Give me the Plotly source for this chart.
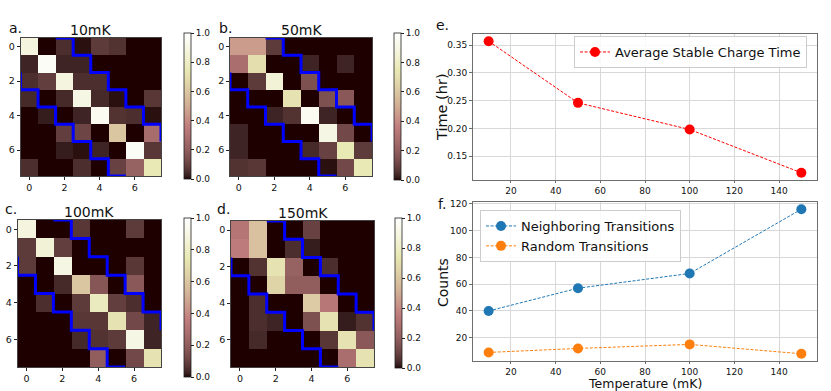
import math
import plotly.graph_objects as go

# ---------------- data ----------------
HEAT_TITLES = ["10mK", "50mK", "100mK", "150mK"]
PANEL_LABELS = ["a.", "b.", "c.", "d.", "e.", "f."]

M_10 = [
    [0.88, 0.00, 0.05, 0.01, 0.08, 0.06, 0.00, 0.00],
    [0.03, 0.97, 0.03, 0.03, 0.00, 0.00, 0.00, 0.00],
    [0.05, 0.09, 0.88, 0.05, 0.05, 0.00, 0.00, 0.00],
    [0.04, 0.00, 0.04, 0.90, 0.04, 0.01, 0.00, 0.07],
    [0.00, 0.02, 0.00, 0.03, 0.95, 0.06, 0.05, 0.01],
    [0.00, 0.00, 0.09, 0.11, 0.00, 0.60, 0.00, 0.27],
    [0.00, 0.00, 0.02, 0.01, 0.03, 0.00, 0.97, 0.07],
    [0.05, 0.00, 0.00, 0.05, 0.00, 0.10, 0.22, 0.75],
]
M_50 = [
    [0.45, 0.45, 0.08, 0.00, 0.00, 0.00, 0.00, 0.00],
    [0.28, 0.70, 0.00, 0.00, 0.03, 0.00, 0.03, 0.00],
    [0.00, 0.08, 0.85, 0.00, 0.15, 0.00, 0.00, 0.00],
    [0.00, 0.00, 0.00, 0.72, 0.00, 0.15, 0.18, 0.00],
    [0.00, 0.00, 0.03, 0.06, 0.95, 0.03, 0.00, 0.00],
    [0.03, 0.00, 0.00, 0.00, 0.00, 0.90, 0.12, 0.00],
    [0.03, 0.00, 0.00, 0.00, 0.04, 0.10, 0.75, 0.08],
    [0.06, 0.07, 0.00, 0.00, 0.00, 0.01, 0.12, 0.75],
]
M_100 = [
    [0.88, 0.00, 0.00, 0.07, 0.00, 0.00, 0.08, 0.00],
    [0.08, 0.85, 0.09, 0.00, 0.00, 0.00, 0.00, 0.00],
    [0.08, 0.00, 0.90, 0.00, 0.00, 0.00, 0.07, 0.00],
    [0.00, 0.00, 0.04, 0.60, 0.17, 0.00, 0.18, 0.00],
    [0.00, 0.05, 0.00, 0.08, 0.78, 0.09, 0.05, 0.00],
    [0.00, 0.00, 0.00, 0.07, 0.07, 0.72, 0.12, 0.03],
    [0.00, 0.00, 0.00, 0.04, 0.06, 0.08, 0.90, 0.03],
    [0.00, 0.00, 0.00, 0.00, 0.20, 0.00, 0.12, 0.72],
]
M_150 = [
    [0.32, 0.58, 0.00, 0.00, 0.10, 0.00, 0.00, 0.00],
    [0.35, 0.58, 0.00, 0.05, 0.02, 0.00, 0.00, 0.00],
    [0.00, 0.06, 0.72, 0.22, 0.00, 0.05, 0.00, 0.00],
    [0.00, 0.00, 0.65, 0.20, 0.20, 0.00, 0.00, 0.00],
    [0.00, 0.05, 0.00, 0.00, 0.62, 0.33, 0.00, 0.00],
    [0.00, 0.05, 0.03, 0.00, 0.15, 0.72, 0.02, 0.06],
    [0.00, 0.04, 0.00, 0.00, 0.00, 0.07, 0.72, 0.18],
    [0.00, 0.00, 0.00, 0.00, 0.00, 0.00, 0.28, 0.72],
]
MATRICES = [M_10, M_50, M_100, M_150]
N_STATES = 8
BAND = 2

TEMPS = [10, 50, 100, 150]
STABLE_TIME = [0.357, 0.246, 0.198, 0.120]
NEIGHBOR = [40, 57, 68, 116]
RANDOM = [9, 12, 15, 8]

HEAT_TICKS = [0, 2, 4, 6]
CBAR_TICKS = [0.0, 0.2, 0.4, 0.6, 0.8, 1.0]
X_TICKS = [20, 40, 60, 80, 100, 120, 140]
E_YTICKS = [0.15, 0.20, 0.25, 0.30, 0.35]
F_YTICKS = [20, 40, 60, 80, 100, 120]

# ---------------- helpers ----------------
W, H = 831, 391
FONT = "DejaVu Sans"


def xd(a, b):
    return [a / W, b / W]


def yd(top, bottom):
    return [1 - bottom / H, 1 - top / H]


def pink_scale(m=64):
    n = 3 * m // 8
    out = []
    for i in range(m):
        g = i / (m - 1)
        hr = min(1.0, (i + 1) / n)
        hg = min(1.0, max(0.0, (i + 1 - n) / n))
        hb = min(1.0, max(0.0, (i + 1 - 2 * n) / (m - 2 * n)))
        r = math.sqrt((2 * g + hr) / 3)
        gg = math.sqrt((2 * g + hg) / 3)
        b = math.sqrt((2 * g + hb) / 3)
        out.append([i / (m - 1), f"rgb({round(r*255)},{round(gg*255)},{round(b*255)})"])
    return out


PINK = pink_scale()

# staircase outlining the |i-j|<=BAND band
up_x, up_y = [BAND - 0.5], [-0.5]
for r in range(N_STATES - BAND):
    x = r + BAND + 0.5
    up_x += [x, x]
    up_y += [r - 0.5, r + 0.5]
    if x + 1 <= N_STATES - 0.5:
        up_x.append(x + 1)
        up_y.append(r + 0.5)
lo_x, lo_y = up_y[:], up_x[:]

# layout geometry (pixels)
HEAT_BOX = [  # x0, x1, ytop, ybottom
    (20.5, 161, 38, 176),
    (230, 372, 38, 176),
    (17.5, 161, 220, 367),
    (231, 374, 221, 367),
]
CBAR_BOX = [  # x, ytop, ybottom
    (184, 33, 179),
    (394, 33, 180),
    (184, 218, 377),
    (395, 218, 368),
]
E_BOX = (473, 817, 34, 180)
F_BOX = (473, 817, 202, 361)

fig = go.Figure()
layout = dict(
    width=W, height=H,
    margin=dict(l=0, r=0, t=0, b=0),
    paper_bgcolor="white", plot_bgcolor="white",
    font=dict(family=FONT, size=10, color="#111"),
    annotations=[],
)

for k, (M, box, cb) in enumerate(zip(MATRICES, HEAT_BOX, CBAR_BOX)):
    idx = "" if k == 0 else str(k + 1)
    xa, ya = "x" + idx, "y" + idx
    fig.add_trace(go.Heatmap(
        z=M, x=list(range(N_STATES)), y=list(range(N_STATES)),
        colorscale=PINK, zmin=0, zmax=1, xaxis=xa, yaxis=ya,
        hoverinfo="skip",
        colorbar=dict(
            x=cb[0] / W, xanchor="left", y=1 - cb[1] / H, yanchor="top",
            len=(cb[2] - cb[1]) / H, lenmode="fraction",
            thickness=7, thicknessmode="pixels", xpad=0, ypad=0,
            outlinewidth=0.8, outlinecolor="#222",
            tickvals=CBAR_TICKS, ticktext=[f"{v:.1f}" for v in CBAR_TICKS],
            ticks="outside", ticklen=3, tickcolor="#222",
            tickfont=dict(size=9, family=FONT, color="#111"),
        ),
    ))
    for lx, ly in ((up_x, up_y), (lo_x, lo_y)):
        fig.add_trace(go.Scatter(
            x=lx, y=ly, mode="lines", xaxis=xa, yaxis=ya,
            line=dict(color="#0000ff", width=3), showlegend=False, hoverinfo="skip",
        ))
    layout["xaxis" + idx] = dict(
        domain=xd(box[0], box[1]), anchor=ya, range=[-0.5, N_STATES - 0.5],
        tickvals=HEAT_TICKS, ticks="outside", ticklen=3, tickcolor="#222",
        showgrid=False, zeroline=False, showline=True, linecolor="#444", linewidth=0.8,
        mirror=True, tickfont=dict(size=9.5), automargin=False,
    )
    layout["yaxis" + idx] = dict(
        domain=yd(box[2], box[3]), anchor=xa, range=[N_STATES - 0.5, -0.5],
        tickvals=HEAT_TICKS, ticks="outside", ticklen=3, tickcolor="#222",
        showgrid=False, zeroline=False, showline=True, linecolor="#444", linewidth=0.8,
        mirror=True, tickfont=dict(size=9.5), automargin=False,
    )
    # title
    layout["annotations"].append(dict(
        text=HEAT_TITLES[k], xref="paper", yref="paper",
        x=(box[0] + box[1]) / 2 / W, y=1 - (box[2] - 8) / H,
        xanchor="center", yanchor="middle", showarrow=False,
        font=dict(size=14, family=FONT, color="#111"),
    ))

# panel letters
LETTER_POS = [(7, 28), (217, 28), (3, 209), (215, 209), (434, 25), (436, 204)]
for lab, (px, py) in zip(PANEL_LABELS, LETTER_POS):
    layout["annotations"].append(dict(
        text=lab, xref="paper", yref="paper", x=px / W, y=1 - py / H,
        xanchor="left", yanchor="middle", showarrow=False,
        font=dict(size=14, family=FONT, color="#111"),
    ))

FRAME = "#6e6e6e"
GRID = "#d8d8d8"


def line_axes(box, yticks, yfmt, yrange, idx):
    xa = dict(
        domain=xd(box[0], box[1]), anchor="y" + idx, range=[3, 157],
        tickvals=X_TICKS, ticks="outside", ticklen=2, tickcolor=FRAME,
        showgrid=True, gridcolor=GRID, gridwidth=1, zeroline=False,
        showline=True, linecolor=FRAME, linewidth=1, mirror=True,
        tickfont=dict(size=9), automargin=False,
    )
    ya = dict(
        domain=yd(box[2], box[3]), anchor="x" + idx, range=yrange,
        tickvals=yticks, ticktext=[yfmt.format(v) for v in yticks],
        ticks="outside", ticklen=3, tickcolor=FRAME,
        showgrid=True, gridcolor=GRID, gridwidth=1, zeroline=False,
        showline=True, linecolor=FRAME, linewidth=1, mirror=True,
        tickfont=dict(size=9), automargin=False,
    )
    return xa, ya


layout["xaxis5"], layout["yaxis5"] = line_axes(E_BOX, E_YTICKS, "{:.2f}", [0.107, 0.370], "5")
layout["xaxis6"], layout["yaxis6"] = line_axes(F_BOX, F_YTICKS, "{:d}", [2.6, 121.4], "6")

DASH = "3px,1.6px"
fig.add_trace(go.Scatter(
    x=TEMPS, y=STABLE_TIME, mode="lines+markers", name="Average Stable Charge Time",
    xaxis="x5", yaxis="y5", line=dict(color="red", width=1, dash=DASH),
    marker=dict(color="red", size=10), legend="legend",
))
fig.add_trace(go.Scatter(
    x=TEMPS, y=NEIGHBOR, mode="lines+markers", name="Neighboring Transitions",
    xaxis="x6", yaxis="y6", line=dict(color="#1f77b4", width=1, dash=DASH),
    marker=dict(color="#1f77b4", size=10), legend="legend2",
))
fig.add_trace(go.Scatter(
    x=TEMPS, y=RANDOM, mode="lines+markers", name="Random Transitions",
    xaxis="x6", yaxis="y6", line=dict(color="#ff7f0e", width=1, dash=DASH),
    marker=dict(color="#ff7f0e", size=10), legend="legend2",
))

layout["legend"] = dict(
    x=574 / W, y=1 - 36 / H, xanchor="left", yanchor="top",
    bordercolor="#cccccc", borderwidth=1, bgcolor="rgba(255,255,255,0.85)",
    font=dict(size=13, family=FONT, color="#111"), itemwidth=30, tracegroupgap=0,
)
layout["legend2"] = dict(
    x=480 / W, y=1 - 210 / H, xanchor="left", yanchor="top",
    bordercolor="#cccccc", borderwidth=1, bgcolor="rgba(255,255,255,0.85)",
    font=dict(size=13, family=FONT, color="#111"), itemwidth=30, tracegroupgap=0,
)

# axis titles
layout["annotations"] += [
    dict(text="Time (hr)", xref="paper", yref="paper", x=442 / W, y=1 - 107 / H,
         textangle=-90, showarrow=False, xanchor="center", yanchor="middle",
         font=dict(size=14.5, family=FONT, color="#111")),
    dict(text="Counts", xref="paper", yref="paper", x=443 / W, y=1 - 282 / H,
         textangle=-90, showarrow=False, xanchor="center", yanchor="middle",
         font=dict(size=14, family=FONT, color="#111")),
    dict(text="Temperature (mK)", xref="paper", yref="paper", x=645 / W, y=1 - 383.5 / H,
         showarrow=False, xanchor="center", yanchor="middle",
         font=dict(size=12.5, family=FONT, color="#111")),
]

fig.update_layout(**layout)
fig.write_html(
    "out.html",
    config={"displayModeBar": False},
    post_script="document.body.style.margin='0';document.body.style.overflow='hidden';",
)
